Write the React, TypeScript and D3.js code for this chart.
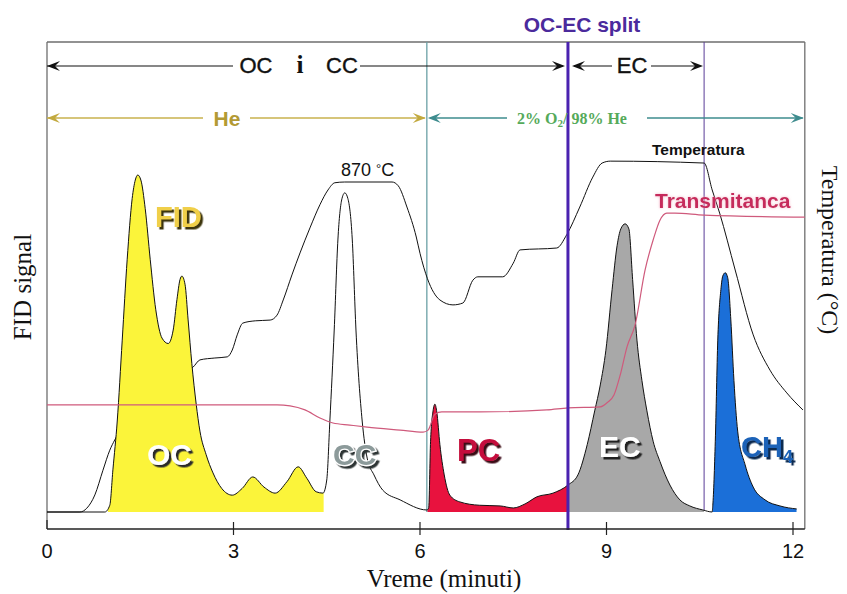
import React from 'react';
import * as d3 from 'd3';

const W = 847;
const H = 594;

// x axis ticks (minutes)
const xTicks = [0, 3, 6, 9, 12];

// FID signal [minutes, relative signal]
const fidSignal: [number, number][] = [
  [0, 0], [0.93, 0], [1.01, 2], [1.06, 12.5], [1.13, 27], [1.21, 51], [1.29, 75], [1.37, 93], [1.42, 98.5],
  [1.46, 100], [1.51, 98.5], [1.58, 90], [1.66, 75], [1.75, 60], [1.85, 51.6], [1.95, 50], [2.03, 54],
  [2.09, 63], [2.14, 69], [2.17, 70], [2.22, 67.6], [2.27, 57], [2.33, 44], [2.40, 32], [2.46, 24],
  [2.56, 17], [2.67, 11.6], [2.81, 7], [2.98, 5], [3.14, 7], [3.31, 10.4], [3.49, 7.4], [3.67, 5.6],
  [3.86, 9], [4.04, 13.4], [4.18, 10], [4.33, 6], [4.44, 5.6], [4.50, 9.5], [4.55, 27], [4.62, 54],
  [4.68, 81], [4.74, 92.6], [4.79, 94.7], [4.84, 93], [4.91, 81], [4.97, 54], [5.07, 27], [5.15, 16],
  [5.26, 11], [5.40, 6.5], [5.68, 3.6], [6.11, 0.6], [6.14, 1.2], [6.17, 21], [6.21, 30], [6.24, 32],
  [6.27, 29.7], [6.32, 20], [6.39, 11], [6.48, 5], [6.64, 3], [6.96, 2], [7.29, 1.8], [7.50, 1.2],
  [7.69, 2.4], [7.88, 4.5], [8.14, 5.6], [8.38, 8], [8.54, 11], [8.69, 20], [8.81, 30], [8.90, 37.7],
  [8.99, 48], [9.09, 66], [9.17, 79], [9.23, 84], [9.30, 85.5], [9.36, 84], [9.42, 69], [9.49, 51],
  [9.57, 39], [9.65, 30], [9.75, 21], [9.86, 15], [10.02, 8], [10.18, 3.6], [10.34, 1.8], [10.55, 0.6],
  [10.70, 0], [10.71, 2], [10.75, 21], [10.79, 51], [10.84, 66], [10.87, 70], [10.91, 71], [10.95, 69.5],
  [11.0, 57], [11.05, 39], [11.11, 24], [11.23, 14], [11.36, 7.4], [11.55, 3.6], [11.79, 1.8], [12.06, 0.9],
];

// Oven temperature [minutes, °C]
const temperature: [number, number][] = [
  [0, 0], [0.53, 0], [0.64, 10], [0.77, 45], [0.90, 110], [1.01, 163], [1.09, 190], [1.4, 260], [1.8, 330],
  [2.1, 365], [2.35, 382], [2.46, 401], [2.70, 406], [2.90, 409], [2.98, 427], [3.06, 467], [3.15, 498],
  [3.35, 504], [3.59, 506], [3.70, 519], [3.80, 559], [3.94, 625], [4.07, 683], [4.23, 749], [4.39, 810],
  [4.52, 849], [4.63, 868], [4.79, 870], [5.55, 870], [5.65, 860], [5.79, 804], [5.94, 725], [6.0, 682],
  [6.12, 615], [6.32, 559], [6.53, 546], [6.69, 551], [6.85, 611], [6.93, 620], [7.33, 620], [7.50, 656],
  [7.61, 691], [8.20, 696], [8.36, 731], [8.57, 804], [8.78, 883], [8.93, 920], [9.06, 925], [10.57, 920],
  [10.70, 849], [10.82, 788], [11.07, 638], [11.36, 467], [11.63, 374], [11.90, 314], [12.16, 269],
];

// Laser transmittance [minutes, relative]
const transmittance: [number, number][] = [
  [0, 31.8], [3.70, 31.8], [3.91, 31.5], [4.15, 30.3], [4.39, 27.9], [4.60, 26.4], [4.87, 25.8], [5.15, 25.2],
  [5.68, 24.3], [6.05, 23.7], [6.13, 24.3], [6.24, 29], [6.35, 29.7], [6.96, 29.7], [8.04, 30.3], [8.38, 30.9],
  [8.90, 31.2], [9.02, 32.6], [9.12, 34.7], [9.22, 40.6], [9.33, 49], [9.46, 55.5], [9.62, 71.8], [9.75, 80.7],
  [9.86, 86.6], [9.97, 88.7], [10.10, 88.7], [10.57, 88.1], [12.19, 87.5],
];

// Coloured peak segments [from, to] in minutes
const segmentNames = ['OC', 'PC', 'EC', 'CH4'];
const segmentFrom = [0.98, 6.12, 8.38, 10.70];
const segmentTo = [4.45, 8.38, 10.57, 12.06];
const segmentFill = ['#fbf43a', '#e8123e', '#a8a8a8', '#1b6fd8'];

// Phase boundaries (minutes)
const heEnd = 6.11;
const ocEcSplit = 8.38;
const ecEnd = 10.57;
const xMaxFrame = 12.19;

const x = d3.scaleLinear().domain([0, 12]).range([47, 793]);
const yFid = d3.scaleLinear().domain([0, 100]).range([512, 175]);
const yTemp = d3.scaleLinear().domain([0, 870]).range([512, 182]);
const yTrans = yFid;

const TOP = 42;
const AXIS_Y = 529;

const fidLine = d3.line<[number, number]>().x(d => x(d[0])).y(d => yFid(d[1])).curve(d3.curveMonotoneX);
const fidArea = d3.area<[number, number]>().x(d => x(d[0])).y0(yFid(0)).y1(d => yFid(d[1])).curve(d3.curveMonotoneX);
const tempLine = d3.line<[number, number]>().x(d => x(d[0])).y(d => yTemp(d[1])).curve(d3.curveMonotoneX);
const transLine = d3.line<[number, number]>().x(d => x(d[0])).y(d => yTrans(d[1])).curve(d3.curveMonotoneX);

function head(px: number, py: number, dir: number, color: string) {
  return (
    <path
      d={`M${px},${py} L${px - dir * 13},${py - 5} L${px - dir * 8},${py} L${px - dir * 13},${py + 5} Z`}
      fill={color}
    />
  );
}

const labelShadows = [
  { id: 'sh-fid', color: '#3e3410' },
  { id: 'sh-oc', color: '#2a2a2a' },
  { id: 'sh-cc', color: '#2e3434' },
  { id: 'sh-pc', color: '#3a0a14' },
  { id: 'sh-ec', color: '#222222' },
  { id: 'sh-ch', color: '#0c2a50' },
];

function ShadowText(props: {
  x: number; y: number; text: string; fill: string; shadowId: string; size: number; outline?: string; sub?: string;
}) {
  const { x: tx, y: ty, text, fill, shadowId, size, outline, sub } = props;
  return (
    <text
      x={tx}
      y={ty}
      fill={fill}
      fontFamily='Arial, "Liberation Sans", sans-serif'
      fontWeight="bold"
      fontSize={size}
      filter={`url(#${shadowId})`}
      stroke={outline || 'none'}
      strokeWidth={outline ? 2.5 : 0}
      paintOrder="stroke"
    >
      {text}
      {sub ? <tspan fontSize={size * 0.62} dy={6}>{sub}</tspan> : null}
    </text>
  );
}

export default function App() {
  const sans = 'Arial, "Liberation Sans", sans-serif';
  const serif = '"Times New Roman", "Liberation Serif", serif';
  const segs = segmentNames.map((n, i) => ({ n, from: segmentFrom[i], to: segmentTo[i], fill: segmentFill[i] }));
  return (
    <svg width={W} height={H} style={{ position: 'absolute', left: 0, top: 0, background: '#fff' }}>
      <defs>
        {segs.map(s => (
          <clipPath id={`clip-${s.n}`} key={s.n}>
            <rect x={x(s.from)} y={0} width={x(s.to) - x(s.from)} height={H} />
          </clipPath>
        ))}
        {labelShadows.map(s => (
          <filter id={s.id} key={s.id} x="-20%" y="-30%" width="150%" height="160%">
            <feDropShadow dx={2.5} dy={2.5} stdDeviation={0.6} floodColor={s.color} floodOpacity={1} />
          </filter>
        ))}
        <filter id="glow" x="-10%" y="-30%" width="120%" height="160%">
          <feDropShadow dx={0} dy={0} stdDeviation={1.5} floodColor="#f3a6bf" floodOpacity={0.8} />
        </filter>
      </defs>
      <rect x={0} y={0} width={W} height={H} fill="#fff" />

      {/* title */}
      <text x={582} y={32} textAnchor="middle" fontFamily={sans} fontWeight="bold" fontSize={21} fill="#4b2a9c">
        OC-EC split
      </text>

      {/* frame */}
      <line x1={x(0)} y1={TOP} x2={x(xMaxFrame)} y2={TOP} stroke="#6e6e6e" strokeWidth={1.3} />
      <line x1={x(0)} y1={TOP} x2={x(0)} y2={AXIS_Y} stroke="#6e6e6e" strokeWidth={1.3} />
      <line x1={x(xMaxFrame)} y1={TOP} x2={x(xMaxFrame)} y2={AXIS_Y} stroke="#6e6e6e" strokeWidth={1.3} />

      {/* phase lines */}
      <line x1={x(heEnd)} y1={TOP} x2={x(heEnd)} y2={512} stroke="#6aa0a6" strokeWidth={1.3} />
      <line x1={x(ecEnd)} y1={TOP} x2={x(ecEnd)} y2={510} stroke="#5a3c98" strokeWidth={1} />

      {/* temperature */}
      <path d={tempLine(temperature) || ''} fill="none" stroke="#111" strokeWidth={1} />

      {/* coloured peaks */}
      {segs.map(s => (
        <path key={s.n} d={fidArea(fidSignal) || ''} fill={s.fill} clipPath={`url(#clip-${s.n})`} />
      ))}

      {/* FID outline */}
      <path d={fidLine(fidSignal) || ''} fill="none" stroke="#111" strokeWidth={1} />

      {/* transmittance */}
      <path d={transLine(transmittance) || ''} fill="none" stroke="#cf5a7c" strokeWidth={1.2} />

      {/* split line */}
      <line x1={x(ocEcSplit)} y1={TOP} x2={x(ocEcSplit)} y2={AXIS_Y + 1} stroke="#4a22b0" strokeWidth={3} />

      {/* x axis */}
      <line x1={x(0)} y1={AXIS_Y} x2={x(xMaxFrame)} y2={AXIS_Y} stroke="#222" strokeWidth={1.3} />
      {xTicks.map(t => (
        <g key={t}>
          <line x1={x(t)} y1={t === 0 ? 520 : 522} x2={x(t)} y2={t === 0 ? AXIS_Y : 535} stroke="#222" strokeWidth={1.2} />
          <text x={x(t)} y={558} textAnchor="middle" fontFamily={sans} fontSize={20} fill="#111">{t}</text>
        </g>
      ))}

      {/* axis titles */}
      <text x={(x(0) + x(12)) / 2 + 24} y={587} textAnchor="middle" fontFamily={serif} fontSize={25} fill="#111">
        Vreme (minuti)
      </text>
      <text transform="translate(31,287) rotate(-90)" textAnchor="middle" fontFamily={serif} fontSize={25} fill="#111">
        FID signal
      </text>
      <text transform="translate(822,250) rotate(90)" textAnchor="middle" fontFamily={serif} fontSize={24} fill="#111">
        Temperatura (°C)
      </text>

      {/* OC i CC arrow */}
      <line x1={x(0)} y1={66} x2={233} y2={66} stroke="#111" strokeWidth={1.2} />
      <line x1={360} y1={66} x2={563} y2={66} stroke="#111" strokeWidth={1.2} />
      {head(x(0), 66, -1, '#111')}
      {head(565, 66, 1, '#111')}
      <text x={256} y={73} textAnchor="middle" fontFamily={sans} fontSize={22} fill="#111" stroke="#111" strokeWidth={0.4}>OC</text>
      <text x={300} y={73} textAnchor="middle" fontFamily={serif} fontWeight="bold" fontSize={25} fill="#111">i</text>
      <text x={342} y={73} textAnchor="middle" fontFamily={sans} fontSize={22} fill="#111" stroke="#111" strokeWidth={0.4}>CC</text>

      {/* EC arrow */}
      <line x1={574} y1={66} x2={612} y2={66} stroke="#111" strokeWidth={1.2} />
      <line x1={651} y1={66} x2={700} y2={66} stroke="#111" strokeWidth={1.2} />
      {head(572, 66, -1, '#111')}
      {head(703, 66, 1, '#111')}
      <text x={632} y={73} textAnchor="middle" fontFamily={sans} fontSize={22} fill="#111" stroke="#111" strokeWidth={0.4}>EC</text>

      {/* He arrow */}
      <line x1={x(0)} y1={118} x2={203} y2={118} stroke="#c9b24e" strokeWidth={1.3} />
      <line x1={250} y1={118} x2={x(heEnd) - 2} y2={118} stroke="#c9b24e" strokeWidth={1.3} />
      {head(x(0), 118, -1, '#c2a93e')}
      {head(x(heEnd) - 1, 118, 1, '#c2a93e')}
      <text x={227} y={126} textAnchor="middle" fontFamily={sans} fontWeight="bold" fontSize={21} fill="#b39a34">He</text>

      {/* O2 arrow */}
      <line x1={x(heEnd) + 3} y1={118} x2={507} y2={118} stroke="#3e8c8e" strokeWidth={1.3} />
      <line x1={647} y1={118} x2={x(xMaxFrame) - 2} y2={118} stroke="#3e8c8e" strokeWidth={1.3} />
      {head(x(heEnd) + 1, 118, -1, '#3e8c8e')}
      {head(x(xMaxFrame) - 1, 118, 1, '#3e8c8e')}
      <text x={572} y={124} textAnchor="middle" fontFamily={serif} fontWeight="bold" fontSize={16} fill="#55aa5a">
        2% O<tspan fontSize={11} dy={3}>2</tspan><tspan dy={-3}>/ 98% He</tspan>
      </text>

      {/* curve labels */}
      <text x={341} y={176} fontFamily={sans} fontSize={18} fill="#111">870 <tspan fontSize={13} dy={-3}>°</tspan><tspan dy={3}>C</tspan></text>
      <text x={652} y={155} fontFamily={sans} fontWeight="bold" fontSize={15.5} fill="#111">Temperatura</text>
      <text x={655} y={208} fontFamily={sans} fontWeight="bold" fontSize={21} fill="#c62a5c" filter="url(#glow)">Transmitanca</text>

      {/* peak labels */}
      <ShadowText x={155} y={227} text="FID" fill="#f0cf48" shadowId="sh-fid" size={29} />
      <ShadowText x={147} y={465} text="OC" fill="#ffffff" shadowId="sh-oc" size={30} />
      <ShadowText x={333} y={465} text="CC" fill="#8c9a9a" shadowId="sh-cc" size={30} outline="#ffffff" />
      <ShadowText x={457} y={461} text="PC" fill="#c4103c" shadowId="sh-pc" size={31} />
      <ShadowText x={599} y={457} text="EC" fill="#ffffff" shadowId="sh-ec" size={30} />
      <ShadowText x={741} y={457} text="CH" sub="4" fill="#1a62b8" shadowId="sh-ch" size={29} />
    </svg>
  );
}
